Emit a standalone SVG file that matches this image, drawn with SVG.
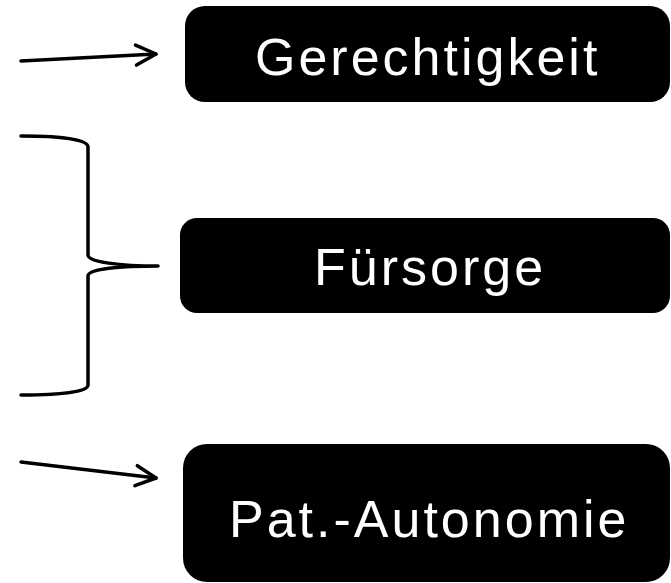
<svg xmlns="http://www.w3.org/2000/svg" width="671" height="583" viewBox="0 0 671 583">
  <style>
    .box { fill: #000; }
    .label { fill: #fff; font-family: "Liberation Sans", Arial, sans-serif; font-size: 52px; letter-spacing: 3px; }
    .link { fill: none; stroke: #000; stroke-width: 3.5; stroke-linecap: round; stroke-linejoin: round; }
  </style>
  <defs>
    <marker id="open-arrow" markerUnits="userSpaceOnUse" viewBox="-24 -14 28 28" markerWidth="28" markerHeight="28" refX="0" refY="0" orient="auto" overflow="visible">
      <path d="M-20,-10 L0,0 L-20,10" fill="none" stroke="#000" stroke-width="3.5" stroke-linecap="round" stroke-linejoin="round"/>
    </marker>
  </defs>

  <rect width="671" height="583" fill="#fff"/>

  <g id="connectors">
    <path class="link" d="M21,61 L156,54" marker-end="url(#open-arrow)"/>
    <path class="link" d="M21,136 C60,136 88,139 88,147 L88,255 C88,262 120,266 158,266 C120,266 88,269 88,276 L88,385 C88,392 60,395 21,395"/>
    <path class="link" d="M21,462 L156,478" marker-end="url(#open-arrow)"/>
  </g>

  <g id="gerechtigkeit">
    <rect class="box" x="185" y="6" width="485" height="96" rx="20" ry="20"/>
    <text class="label" x="255" y="75">Gerechtigkeit</text>
  </g>

  <g id="fuersorge">
    <rect class="box" x="180" y="218" width="490" height="95" rx="17" ry="17"/>
    <text class="label" x="314" y="285">Fürsorge</text>
  </g>

  <g id="pat-autonomie">
    <rect class="box" x="183" y="444" width="487" height="138" rx="24" ry="24"/>
    <text class="label" x="229" y="537">Pat.-Autonomie</text>
  </g>
</svg>
